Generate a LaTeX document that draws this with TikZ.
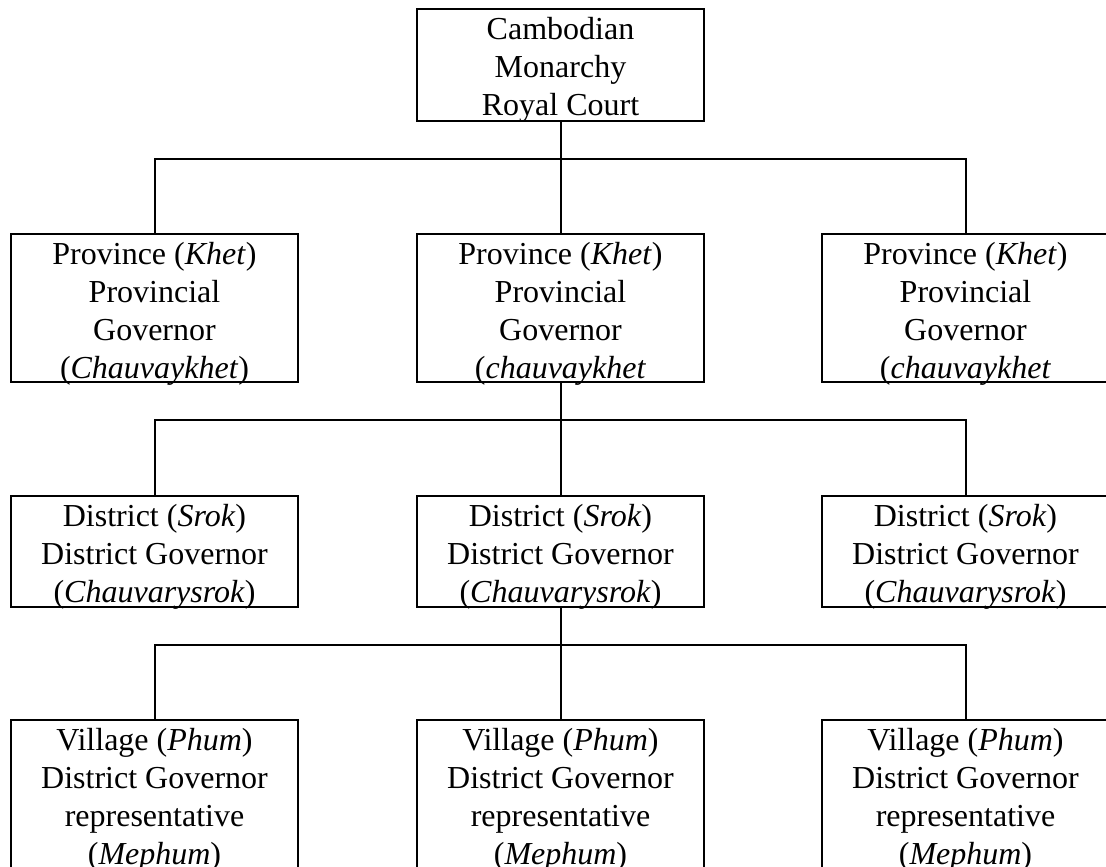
\documentclass[tikz,border=0pt]{standalone}
\usepackage{fontspec}
\setmainfont{Liberation Serif}
% Box content: fixed height, lines hung from the top edge
\newcommand\orglines[3]{\parbox[b][#1][t]{#2}{\centering\rule{0pt}{30.5pt}#3}}
\begin{document}
\begin{tikzpicture}[x=1pt,y=-1pt,
  orgbox/.style={draw, line width=2pt, inner sep=0pt, outer sep=0pt,
    anchor=north, font=\fontsize{32}{38}\selectfont},
  link/.style={line width=2pt}]
\useasboundingbox (0,0) rectangle (1106,867);
\clip (0,0) rectangle (1106,867);

% Royal court
\node[orgbox] (court) at (560.5,9)
  {\orglines{112pt}{287pt}{Cambodian\\Monarchy\\Royal Court}};

% Provinces
\node[orgbox] (prov1) at (154.5,234)
  {\orglines{148pt}{287pt}{Province (\textit{Khet})\\Provincial\\Governor\\(\textit{Chauvaykhet})}};
\node[orgbox] (prov2) at (560.5,234)
  {\orglines{148pt}{287pt}{Province (\textit{Khet})\\Provincial\\Governor\\(\textit{chauvaykhet}}};
\node[orgbox] (prov3) at (965.5,234)
  {\orglines{148pt}{287pt}{Province (\textit{Khet})\\Provincial\\Governor\\(\textit{chauvaykhet}}};

% Districts
\node[orgbox] (dist1) at (154.5,496)
  {\orglines{111pt}{287pt}{District (\textit{Srok})\\District Governor\\(\textit{Chauvarysrok})}};
\node[orgbox] (dist2) at (560.5,496)
  {\orglines{111pt}{287pt}{District (\textit{Srok})\\District Governor\\(\textit{Chauvarysrok})}};
\node[orgbox] (dist3) at (965.5,496)
  {\orglines{111pt}{287pt}{District (\textit{Srok})\\District Governor\\(\textit{Chauvarysrok})}};

% Villages
\node[orgbox] (vill1) at (154.5,720)
  {\orglines{148pt}{287pt}{Village (\textit{Phum})\\District Governor\\representative\\(\textit{Mephum})}};
\node[orgbox] (vill2) at (560.5,720)
  {\orglines{148pt}{287pt}{Village (\textit{Phum})\\District Governor\\representative\\(\textit{Mephum})}};
\node[orgbox] (vill3) at (965.5,720)
  {\orglines{148pt}{287pt}{Village (\textit{Phum})\\District Governor\\representative\\(\textit{Mephum})}};

% Tree connectors
\draw[link] (court.south) -- ++(0,38) -| (prov1.north);
\draw[link] (court.south) -- ++(0,38) -| (prov3.north);
\draw[link] (court.south) -- (prov2.north);

\draw[link] (prov2.south) -- ++(0,38) -| (dist1.north);
\draw[link] (prov2.south) -- ++(0,38) -| (dist3.north);
\draw[link] (prov2.south) -- (dist2.north);

\draw[link] (dist2.south) -- ++(0,38) -| (vill1.north);
\draw[link] (dist2.south) -- ++(0,38) -| (vill3.north);
\draw[link] (dist2.south) -- (vill2.north);
\end{tikzpicture}
\end{document}
